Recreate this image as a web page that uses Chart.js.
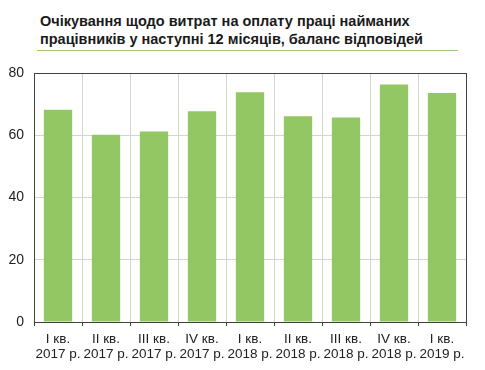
<!DOCTYPE html>
<html>
<head>
<meta charset="utf-8">
<script src="https://cdn.jsdelivr.net/npm/chart.js@4"></script>
<style>
    body { margin: 0; background: #fff; }
    #wrap { position: relative; width: 485px; height: 370px; }
    #title {
        position: absolute; left: 40px; top: 12px;
        font: bold 14.5px "Liberation Sans", Arial, sans-serif;
        line-height: 18px; color: #1a1a1a;
    }
    #rule {
        position: absolute; left: 37px; top: 50px; width: 421px; height: 1px;
        background: #9cc97c;
    }
    canvas { position: absolute; left: 0; top: 0; }
</style>
</head>
<body>
<div id="wrap">
    <div id="title">Очікування щодо витрат на оплату праці найманих<br>працівників у наступні 12 місяців, баланс відповідей</div>
    <div id="rule"></div>
    <canvas id="chart" width="485" height="370"></canvas>
</div>
<script>
    // quarter labels (two lines each)
    const quarters = ['I кв.', 'II кв.', 'III кв.', 'IV кв.', 'I кв.', 'II кв.', 'III кв.', 'IV кв.', 'I кв.'];
    const years = ['2017 р.', '2017 р.', '2017 р.', '2017 р.', '2018 р.', '2018 р.', '2018 р.', '2018 р.', '2019 р.'];
    // balance of responses
    const balance = [68.2, 60.2, 61.2, 67.7, 73.8, 66.1, 65.7, 76.3, 73.6];
    const yTicks = [0, 20, 40, 60, 80];

    const frame = {
        id: 'frame',
        afterDraw(chart) {
            const a = chart.chartArea;
            const ctx = chart.ctx;
            ctx.save();
            ctx.strokeStyle = '#404040';
            ctx.lineWidth = 1;
            ctx.strokeRect(Math.round(a.left) + 0.5, Math.round(a.top) + 0.5,
                Math.round(a.right - a.left), Math.round(a.bottom - a.top));
            ctx.restore();
        }
    };

    new Chart(document.getElementById('chart').getContext('2d'), {
        type: 'bar',
        data: {
            labels: quarters.map((q, i) => [q, years[i]]),
            datasets: [{
                data: balance,
                backgroundColor: '#93c763',
                borderWidth: 0,
                barPercentage: 0.59,
                categoryPercentage: 1
            }]
        },
        options: {
            responsive: false,
            animation: false,
            layout: { padding: { top: 73, right: 19, left: 0, bottom: 0 } },
            plugins: { legend: { display: false }, tooltip: { enabled: false } },
            scales: {
                x: {
                    grid: { color: '#d4d4d4', offset: true, drawTicks: true, tickLength: 4, tickColor: '#404040' },
                    border: { color: '#404040' },
                    ticks: {
                        color: '#222', padding: 6, maxRotation: 0, autoSkip: false,
                        font: { family: '"Liberation Sans", Arial, sans-serif', size: 13.5, lineHeight: 1.1 }
                    },
                    afterFit(scale) { scale.height = 48; }
                },
                y: {
                    min: 0, max: 80,
                    afterBuildTicks(scale) { scale.ticks = yTicks.map(v => ({ value: v })); },
                    grid: { color: '#d4d4d4', drawTicks: false },
                    border: { color: '#404040' },
                    ticks: {
                        color: '#222', padding: 10,
                        font: { family: '"Liberation Sans", Arial, sans-serif', size: 14 }
                    },
                    afterFit(scale) { scale.width = 34; }
                }
            }
        },
        plugins: [frame]
    });
</script>
</body>
</html>
